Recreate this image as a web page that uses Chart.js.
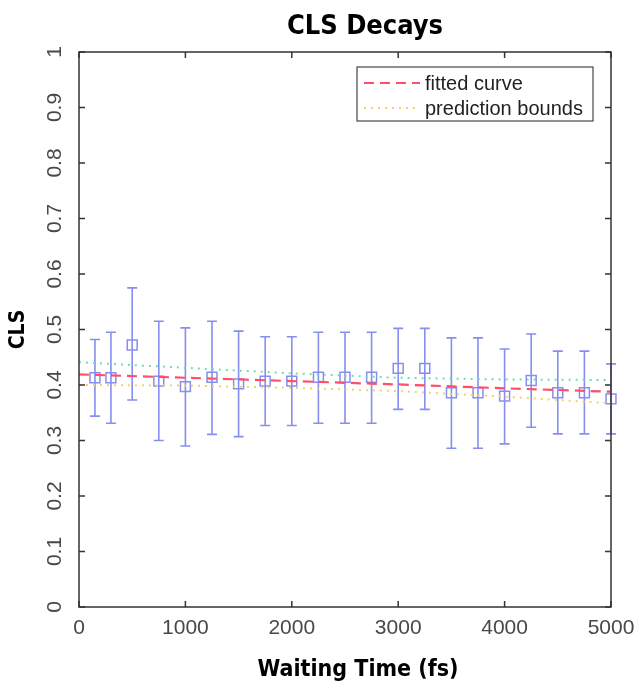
<!DOCTYPE html>
<html>
<head>
<meta charset="utf-8">
<script src="https://cdn.jsdelivr.net/npm/chart.js@4.4.1/dist/chart.umd.min.js"></script>
<style>
  html, body { margin: 0; padding: 0; background: #fff; }
  #wrap { width: 636px; height: 688px; }
</style>
</head>
<body>
<div id="wrap"><canvas id="clsChart"></canvas></div>
<script>
// measured CLS per waiting time (fs), with error bar ends
const waitTimes = [150, 300, 500, 750, 1000, 1250, 1500, 1750, 2000, 2250, 2500, 2750, 3000, 3250, 3500, 3750, 4000, 4250, 4500, 4750, 5000];
const clsValues = [0.413, 0.413, 0.472, 0.407, 0.397, 0.414, 0.402, 0.407, 0.407, 0.414, 0.414, 0.414, 0.430, 0.430, 0.386, 0.386, 0.380, 0.408, 0.386, 0.386, 0.375];
const errLow = [0.344, 0.331, 0.373, 0.300, 0.290, 0.311, 0.307, 0.327, 0.327, 0.331, 0.331, 0.331, 0.356, 0.356, 0.286, 0.286, 0.294, 0.324, 0.312, 0.312, 0.312];
const errHigh = [0.482, 0.495, 0.575, 0.515, 0.503, 0.515, 0.497, 0.487, 0.487, 0.495, 0.495, 0.495, 0.502, 0.502, 0.485, 0.485, 0.465, 0.492, 0.461, 0.461, 0.438];

// fitted curve and prediction bounds
const fitTimes = [0, 1000, 2000, 3000, 4000, 5000];
const fitValues = [0.419, 0.413, 0.407, 0.401, 0.394, 0.388];
const upperBound = [0.441, 0.431, 0.421, 0.413, 0.410, 0.409];
const lowerBound = [0.400, 0.399, 0.395, 0.389, 0.379, 0.367];

// tick labels
const xTicks = [0, 1000, 2000, 3000, 4000, 5000];
const yTicks = [0, 0.1, 0.2, 0.3, 0.4, 0.5, 0.6, 0.7, 0.8, 0.9, 1];

const BLUE = 'rgb(134, 142, 240)';
const RED = 'rgb(255, 78, 102)';
const GREEN = 'rgb(110, 222, 172)';
const YELLOW = 'rgb(242, 212, 100)';
const AXIS = '#333';
const TICK_FONT = { family: "'Liberation Sans', Arial, sans-serif", size: 21 };
const BOLD_FAMILY = "'Liberation Sans Narrow', 'DejaVu Sans Condensed', 'Roboto Condensed', 'Liberation Sans', sans-serif";

const toPoints = (xs, ys) => xs.map((v, i) => ({ x: v, y: ys[i] }));

// error bars, box frame with inward ticks, labels and the legend box
const matlabLook = {
  id: 'matlabLook',
  beforeDatasetsDraw(chart) {
    const { ctx, scales: { x, y } } = chart;
    ctx.save();
    ctx.strokeStyle = BLUE;
    ctx.lineWidth = 1.6;
    waitTimes.forEach((t, i) => {
      const px = x.getPixelForValue(t);
      const top = y.getPixelForValue(errHigh[i]);
      const bot = y.getPixelForValue(errLow[i]);
      ctx.beginPath();
      ctx.moveTo(px, top); ctx.lineTo(px, bot);
      ctx.moveTo(px - 5, top); ctx.lineTo(px + 5, top);
      ctx.moveTo(px - 5, bot); ctx.lineTo(px + 5, bot);
      ctx.stroke();
    });
    ctx.restore();
  },
  afterDraw(chart) {
    const { ctx, chartArea: a, scales: { x, y } } = chart;
    ctx.save();
    // frame
    ctx.strokeStyle = AXIS;
    ctx.lineWidth = 1.5;
    ctx.strokeRect(a.left, a.top, a.right - a.left, a.bottom - a.top);
    // inward ticks
    ctx.beginPath();
    x.ticks.forEach(tk => {
      const px = x.getPixelForValue(tk.value);
      ctx.moveTo(px, a.bottom); ctx.lineTo(px, a.bottom - 6);
      ctx.moveTo(px, a.top); ctx.lineTo(px, a.top + 6);
    });
    y.ticks.forEach(tk => {
      const py = y.getPixelForValue(tk.value);
      ctx.moveTo(a.left, py); ctx.lineTo(a.left + 6, py);
      ctx.moveTo(a.right, py); ctx.lineTo(a.right - 6, py);
    });
    ctx.stroke();

    // titles
    const cx = (a.left + a.right) / 2;
    ctx.fillStyle = '#000';
    ctx.textAlign = 'center';
    ctx.textBaseline = 'middle';
    ctx.font = 'bold 27px ' + BOLD_FAMILY;
    ctx.fillText('CLS Decays', cx + 20, 27);
    ctx.font = 'bold 23px ' + BOLD_FAMILY;
    ctx.fillText('Waiting Time (fs)', cx + 13, 670);
    ctx.save();
    ctx.translate(19, (a.top + a.bottom) / 2);
    ctx.rotate(-Math.PI / 2);
    ctx.font = 'bold 21px ' + BOLD_FAMILY;
    ctx.fillText('CLS', 0, 0);
    ctx.restore();

    // legend box
    const lx = a.right - 254, ly = a.top + 15, lw = 236, lh = 54;
    ctx.fillStyle = '#fff';
    ctx.fillRect(lx, ly, lw, lh);
    ctx.strokeStyle = '#222';
    ctx.lineWidth = 1;
    ctx.strokeRect(lx, ly, lw, lh);
    const rows = [chart.data.datasets[1], chart.data.datasets[3]];
    rows.forEach((ds, i) => {
      const ry = ly + 16 + i * 25;
      ctx.beginPath();
      ctx.strokeStyle = ds.borderColor;
      ctx.lineWidth = 2;
      ctx.setLineDash(ds.borderDash);
      ctx.moveTo(lx + 7, ry);
      ctx.lineTo(lx + 63, ry);
      ctx.stroke();
      ctx.setLineDash([]);
      ctx.fillStyle = '#222';
      ctx.textAlign = 'left';
      ctx.font = "20px 'Liberation Sans', Arial, sans-serif";
      ctx.fillText(ds.label, lx + 68, ry + 1);
    });
    ctx.restore();
  }
};

const chartArea = document.getElementById('clsChart').getContext('2d');
const clsChart = new Chart(chartArea, {
  type: 'scatter',
  data: {
    datasets: [
      {
        label: 'CLS',
        data: toPoints(waitTimes, clsValues),
        pointStyle: 'rect',
        pointRadius: 7,
        pointBorderWidth: 1.5,
        borderColor: BLUE,
        backgroundColor: 'rgba(0,0,0,0)',
        clip: false,
        order: 3
      },
      {
        label: 'fitted curve',
        data: toPoints(fitTimes, fitValues),
        showLine: true,
        borderColor: RED,
        borderWidth: 2.2,
        borderDash: [10, 6],
        pointRadius: 0,
        order: 1
      },
      {
        label: 'upper bound',
        data: toPoints(fitTimes, upperBound),
        showLine: true,
        borderColor: GREEN,
        borderWidth: 2,
        borderDash: [2, 5],
        pointRadius: 0,
        order: 2
      },
      {
        label: 'prediction bounds',
        data: toPoints(fitTimes, lowerBound),
        showLine: true,
        borderColor: YELLOW,
        borderWidth: 2,
        borderDash: [2, 5],
        pointRadius: 0,
        order: 2
      }
    ]
  },
  options: {
    responsive: true,
    maintainAspectRatio: false,
    animation: false,
    layout: { padding: { top: 52, right: 25, left: 0, bottom: 0 } },
    scales: {
      x: {
        type: 'linear',
        min: 0,
        max: 5000,
        afterBuildTicks: s => { s.ticks = xTicks.map(v => ({ value: v })); },
        afterFit: s => { s.height = 81; s.paddingLeft = 0; s.paddingRight = 0; },
        grid: { display: false, drawTicks: false },
        border: { display: false },
        ticks: { font: TICK_FONT, color: '#484848', padding: 9, maxRotation: 0, callback: v => String(v) }
      },
      y: {
        min: 0,
        max: 1,
        afterBuildTicks: s => { s.ticks = yTicks.map(v => ({ value: v })); },
        afterFit: s => { s.width = 79; s.paddingTop = 0; s.paddingBottom = 0; },
        grid: { display: false, drawTicks: false },
        border: { display: false },
        ticks: {
          font: TICK_FONT,
          color: '#484848',
          padding: 9,
          minRotation: 90,
          maxRotation: 90,
          crossAlign: 'center',
          callback: v => String(Math.round(v * 10) / 10)
        }
      }
    },
    plugins: {
      legend: { display: false },
      tooltip: { enabled: false },
      title: { display: false }
    }
  },
  plugins: [matlabLook]
});
</script>
</body>
</html>
